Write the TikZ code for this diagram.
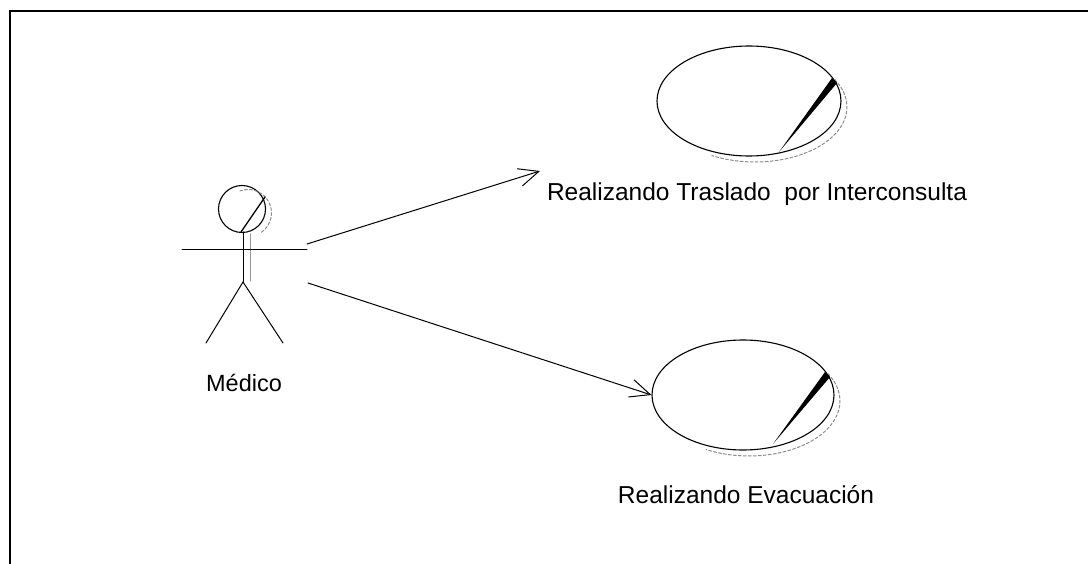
\documentclass[tikz,border=0pt]{standalone}
\usepackage{fontspec}
\setmainfont{Liberation Sans}
\usetikzlibrary{shapes.geometric,arrows.meta}

\definecolor{ShadowColor}{rgb}{0.55,0.55,0.55}
\tikzstyle{uc-base}=[ellipse,
                     draw=black,
                     line width=1.1pt,
                     inner sep=0pt
                    ]
\tikzstyle{usecase}=[uc-base,
                     minimum width=184pt,
                     minimum height=110pt]
\tikzstyle{uc-label}=[font=\fontsize{24.5}{29}\selectfont, inner sep=0pt]
\tikzstyle{actor-label}=[uc-label, font=\fontsize{23.5}{28}\selectfont]
\tikzstyle{uc-shadow}=[draw=ShadowColor, densely dashed, line width=1pt]
\tikzstyle{assoc}=[line width=1pt, -{Straight Barb[length=20pt,width=18pt,line width=1pt]}]

\begin{document}
\begin{tikzpicture}[x=1pt, y=-1pt, line cap=round]
\useasboundingbox (0,0) rectangle (1088,564);

\draw[line width=2.2pt] (1088,11) -- (10,11) -- (10,564);

% actor
\node at (242,209) (head) [circle, draw=black, line width=1.1pt, minimum size=47pt, inner sep=0pt] {};
  \draw[uc-shadow] (248,213) ++(-55:23.5pt) arc[start angle=-55, end angle=110, radius=23.5pt];
  \draw[line width=1.3pt] (265,197) -- (241,232);
  \coordinate (neck) at (243,232);
  \coordinate (hip) at (243,282);
  \draw[line width=1pt] (neck) -- (hip);
  \draw[ShadowColor, densely dotted, line width=1pt] (250,234) -- (250,282);
  \coordinate (arm_l) at (182,250);
  \coordinate (arm_r) at (307,250);
  \draw[line width=1pt] (arm_l) -- (arm_r);
  \coordinate (foot_l) at (206,343);
  \coordinate (foot_r) at (283,343);
  \draw[line width=1pt] (foot_l) -- (hip) -- (foot_r);
\node at (244,383) (medico) [actor-label] {Médico};

% use cases
\node at (749,101) (traslado) [usecase] {};
  \draw[uc-shadow] (755,107) ++(-30:92 and 55) arc[start angle=-30, end angle=118, x radius=92, y radius=55];
  \fill (832,78) -- (837,83) -- (779,152) -- cycle;
\node at (757,194) (traslado_t) [uc-label] {Realizando Traslado\ \ por Interconsulta};

\node at (743,395) (evacuacion) [usecase, minimum width=182pt] {};
  \draw[uc-shadow] (749,401) ++(-30:91 and 55) arc[start angle=-30, end angle=118, x radius=91, y radius=55];
  \fill (825,372) -- (830,377) -- (773,444) -- cycle;
\node at (746,495) (evacuacion_t) [uc-label] {Realizando Evacuación};

\coordinate (assoc1_start) at (307,244);
\coordinate (assoc1_end) at (540,171);
\coordinate (assoc2_start) at (308,283);
\draw[assoc] (assoc1_start) -- (assoc1_end);
\draw[assoc] (assoc2_start) -- (evacuacion.west);

\end{tikzpicture}
\end{document}
